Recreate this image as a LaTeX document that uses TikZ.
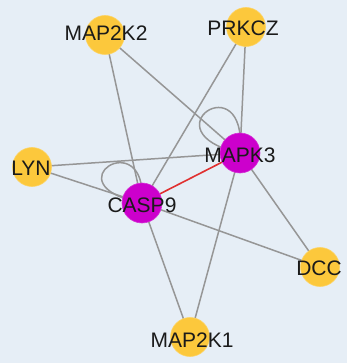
\documentclass[tikz,border=0pt]{standalone}
\usepackage{fontspec}
\setmainfont{Liberation Sans}
\definecolor{bg}{HTML}{E6EEF6}
\definecolor{gene}{HTML}{FCC83C}
\definecolor{hub}{HTML}{CC00CC}
\definecolor{edgec}{HTML}{969696}
\definecolor{rede}{HTML}{E03030}
\definecolor{txt}{HTML}{1A1A1A}
\begin{document}
\begin{tikzpicture}[x=1pt,y=-1pt,
  gnode/.style={circle,fill=gene,draw=gene!80!white,line width=0.6pt,minimum size=39pt,inner sep=0pt},
  hnode/.style={circle,fill=hub,draw=hub!80!white,line width=0.6pt,minimum size=40pt,inner sep=0pt},
  lbl/.style={font=\fontsize{21}{25}\selectfont,text=txt,inner sep=0pt},
  edge/.style={draw=edgec,line width=1.5pt},
  redge/.style={draw=rede,line width=1.6pt}]
\fill[bg] (0,0) rectangle (347,363);
\useasboundingbox (0,0) rectangle (347,363);
% node positions
\coordinate (pMAP2K2) at (105,35);
\coordinate (pPRKCZ) at (246,27);
\coordinate (pLYN) at (32,167);
\coordinate (pMAPK3) at (240,153);
\coordinate (pCASP9) at (142,203);
\coordinate (pDCC) at (320,267);
\coordinate (pMAP2K1) at (190,337);
% edges
\draw[edge] (pMAP2K2) -- (pCASP9);
\draw[edge] (pMAP2K2) -- (pMAPK3);
\draw[edge] (pPRKCZ) -- (pCASP9);
\draw[edge] (pPRKCZ) -- (pMAPK3);
\draw[edge] (pLYN) -- (pMAPK3);
\draw[edge] (pLYN) -- (pCASP9);
\draw[edge] (pCASP9) -- (pDCC);
\draw[edge] (pCASP9) -- (pMAP2K1);
\draw[edge] (pMAPK3) -- (pDCC);
\draw[edge] (pMAPK3) -- (pMAP2K1);
\draw[edge] (pMAPK3) .. controls (248,62) and (145,132) .. (pMAPK3);
\draw[edge] (pCASP9) .. controls (148,122) and (48,185) .. (pCASP9);
\draw[redge] (pCASP9) -- (pMAPK3);
% nodes
\node[gnode] (MAP2K2) at (pMAP2K2) {};
\node[gnode] (PRKCZ) at (pPRKCZ) {};
\node[gnode] (LYN) at (pLYN) {};
\node[hnode] (MAPK3) at (pMAPK3) {};
\node[hnode] (CASP9) at (pCASP9) {};
\node[gnode] (DCC) at (pDCC) {};
\node[gnode] (MAP2K1) at (pMAP2K1) {};
% labels
\node[lbl] (tMAP2K2) at (106,33) {MAP2K2};
\node[lbl] (tPRKCZ) at (243,28) {PRKCZ};
\node[lbl] (tLYN) at (31,168) {LYN};
\node[lbl] (tMAPK3) at (240,155) {MAPK3};
\node[lbl] (tCASP9) at (142,205) {CASP9};
\node[lbl] (tDCC) at (319,268) {DCC};
\node[lbl] (tMAP2K1) at (192,340) {MAP2K1};
\end{tikzpicture}
\end{document}
